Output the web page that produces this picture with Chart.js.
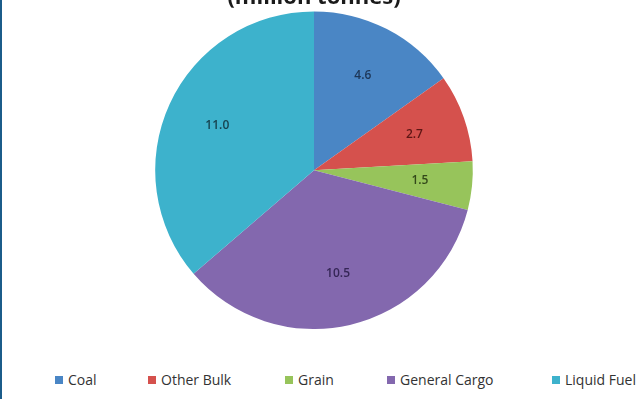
<!DOCTYPE html>
<html>
<head>
<meta charset="utf-8">
<script src="https://cdn.jsdelivr.net/npm/chart.js@4/dist/chart.umd.min.js"></script>
<style>
  html, body { margin: 0; padding: 0; background: #fff; }
  #frame { position: relative; width: 638px; height: 399px; overflow: hidden; background: #fff; }
  #frame:before { content: ''; position: absolute; left: 0; top: 0; bottom: 0; width: 2px; background: #1b5c8a; z-index: 2; }
  #myCanvasCarga { position: absolute; left: 0; top: -15px; }
  #legenda { position: absolute; left: 0; top: 370px; white-space: nowrap; font: 14px "Open Sans", sans-serif; color: #333; }
  #legenda span.item { position: absolute; top: 0; }
  #legenda span.caixa { display: inline-block; width: 8px; height: 8px; margin-right: 5px; vertical-align: 1px; }
</style>
</head>
<body>
<div id="frame">
  <canvas id="myCanvasCarga" width="638" height="344"></canvas>
  <div id="legenda"></div>
</div>
<script>
var categorias = ['Coal', 'Other Bulk', 'Grain', 'General Cargo', 'Liquid Fuel'];
var valores = [4.6, 2.7, 1.5, 10.5, 11.0];
var cores = ['#4A86C5', '#D5514D', '#97C45B', '#8368AE', '#3DB2CC'];
var coresTexto = ['#1d3657', '#5e1614', '#33481a', '#352656', '#17434f'];
var titulo = '(million tonnes)';

// posicao x de cada item da legenda
var legendaX = [55, 148, 285, 387, 552];

var rotulosFatia = {
    id: 'rotulosFatia',
    afterDatasetsDraw: function(chart) {
        var ctx = chart.ctx;
        var meta = chart.getDatasetMeta(0);
        ctx.save();
        ctx.font = '600 12px "Open Sans", sans-serif';
        ctx.textAlign = 'center';
        ctx.textBaseline = 'middle';
        meta.data.forEach(function(arc, i) {
            var meio = (arc.startAngle + arc.endAngle) / 2;
            var r = arc.outerRadius * 0.67;
            ctx.fillStyle = coresTexto[i];
            ctx.fillText(valores[i].toFixed(1), arc.x + Math.cos(meio) * r, arc.y + Math.sin(meio) * r);
        });
        ctx.restore();
    }
};

var grafico = new Chart(document.getElementById('myCanvasCarga'), {
    type: 'pie',
    data: {
        labels: categorias,
        datasets: [{
            data: valores,
            backgroundColor: cores,
            borderWidth: 0
        }]
    },
    options: {
        responsive: false,
        animation: false,
        layout: { padding: { left: 0, right: 10, top: 0, bottom: 0 } },
        plugins: {
            legend: { display: false },
            tooltip: { enabled: false },
            title: {
                display: true,
                text: titulo,
                color: '#1a1a1a',
                font: { family: '"Open Sans", sans-serif', size: 22, weight: 'bold', lineHeight: 1.2 },
                padding: { top: 0, bottom: 0 }
            }
        }
    },
    plugins: [rotulosFatia]
});

var legenda = document.getElementById('legenda');
for (var i = 0; i < categorias.length; i++) {
    var item = document.createElement('span');
    item.className = 'item';
    item.style.left = legendaX[i] + 'px';
    item.innerHTML = '<span class="caixa" style="background:' + cores[i] + '"></span>' + categorias[i];
    legenda.appendChild(item);
}
</script>
</body>
</html>
